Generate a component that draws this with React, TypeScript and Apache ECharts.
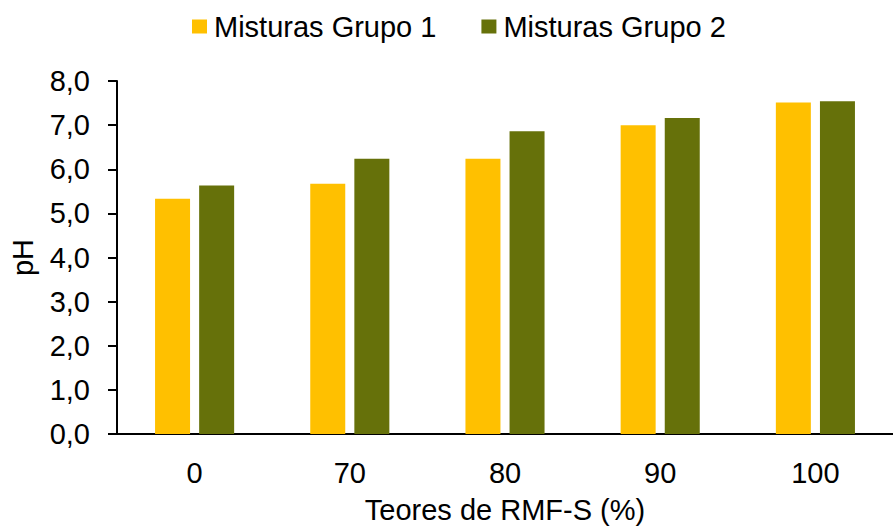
import React, { useEffect, useRef } from "react";
import * as echarts from "echarts";

const categories = ["0", "70", "80", "90", "100"];
const grupo1 = [5.33, 5.67, 6.24, 7.0, 7.51];
const grupo2 = [5.63, 6.24, 6.86, 7.16, 7.54];
const seriesNames = ["Misturas Grupo 1", "Misturas Grupo 2"];
const yTicks = { min: 0, max: 8, interval: 1 };

const FONT = "'Liberation Sans', Arial, Helvetica, sans-serif";
const FS = 29;

export default function App() {
  const ref = useRef<HTMLDivElement>(null);
  useEffect(() => {
    if (!ref.current) return;
    const chart = echarts.init(ref.current, undefined, { renderer: "svg" });
    chart.setOption({
      animation: false,
      backgroundColor: "#ffffff",
      textStyle: { fontFamily: FONT, color: "#000" },
      legend: {
        data: seriesNames,
        left: 192,
        top: 12,
        icon: "rect",
        itemWidth: 15,
        itemHeight: 14,
        itemGap: 45,
        padding: 0,
        textStyle: { fontFamily: FONT, fontSize: FS, color: "#000", padding: [0, 0, 0, 2] },
        selectedMode: false,
      },
      grid: { left: 116, top: 81, width: 790, height: 355, containLabel: false },
      xAxis: {
        type: "category",
        data: categories,
        axisTick: { show: false },
        axisLine: { lineStyle: { color: "#000", width: 2 } },
        axisLabel: { fontFamily: FONT, fontSize: FS, color: "#000", margin: 24 },
        name: "Teores de RMF-S (%)",
        nameLocation: "middle",
        nameGap: 61,
        nameTextStyle: { fontFamily: FONT, fontSize: FS, color: "#000" },
      },
      yAxis: {
        type: "value",
        min: yTicks.min,
        max: yTicks.max,
        interval: yTicks.interval,
        splitLine: { show: false },
        axisLine: { show: true, lineStyle: { color: "#000", width: 2 } },
        axisTick: { show: true, length: 9, lineStyle: { color: "#000", width: 2 } },
        axisLabel: {
          fontFamily: FONT,
          fontSize: FS,
          color: "#000",
          margin: 27,
          formatter: (v: number) => v.toFixed(1).replace(".", ","),
        },
        name: "pH",
        nameLocation: "middle",
        nameGap: 80,
        nameRotate: 90,
        nameTextStyle: { fontFamily: FONT, fontSize: FS, color: "#000" },
      },
      series: [
        {
          name: seriesNames[0],
          type: "bar",
          data: grupo1,
          barWidth: 35,
          barGap: "26%",
          itemStyle: { color: "#FFC000" },
        },
        {
          name: seriesNames[1],
          type: "bar",
          data: grupo2,
          barWidth: 35,
          barGap: "26%",
          itemStyle: { color: "#66710A" },
        },
      ],
    });
    return () => chart.dispose();
  }, []);
  return (
    <div
      style={{
        position: "fixed",
        left: 0,
        top: 0,
        width: 893,
        height: 529,
        overflow: "hidden",
        background: "#fff",
      }}
    >
      <div ref={ref} style={{ width: 893, height: 529 }} />
    </div>
  );
}
